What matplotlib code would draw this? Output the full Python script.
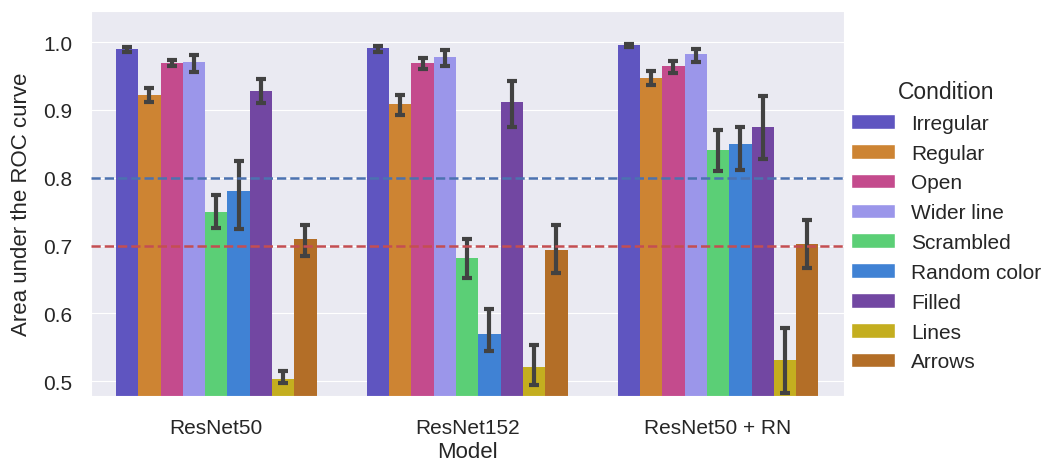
import numpy as np
import matplotlib
matplotlib.use("Agg")
import matplotlib.pyplot as plt
import seaborn as sns
from matplotlib.patches import Patch

sns.set_style("darkgrid")
plt.rcParams['font.family'] = ['Liberation Sans', 'DejaVu Sans']

models = ["ResNet50", "ResNet152", "ResNet50 + RN"]
conditions = ["Irregular", "Regular", "Open", "Wider line", "Scrambled",
              "Random color", "Filled", "Lines", "Arrows"]
colors = ["#5f55c0", "#cd8433", "#c44b8d", "#9b96ea", "#5bcf76",
          "#4082d4", "#7247a2", "#c4ae1f", "#b36e27"]

# mean AUC per model (rows) and condition (columns)
auc = np.array([
    [0.990, 0.922, 0.969, 0.971, 0.749, 0.780, 0.928, 0.504, 0.710],
    [0.991, 0.909, 0.969, 0.978, 0.681, 0.569, 0.912, 0.521, 0.694],
    [0.996, 0.947, 0.965, 0.982, 0.841, 0.850, 0.875, 0.531, 0.702],
])
ci_low = np.array([
    [0.985, 0.911, 0.965, 0.956, 0.726, 0.725, 0.910, 0.498, 0.685],
    [0.986, 0.893, 0.960, 0.965, 0.652, 0.545, 0.874, 0.495, 0.660],
    [0.993, 0.936, 0.954, 0.971, 0.810, 0.812, 0.827, 0.482, 0.667],
])
ci_high = np.array([
    [0.993, 0.932, 0.974, 0.981, 0.774, 0.824, 0.946, 0.515, 0.730],
    [0.994, 0.922, 0.977, 0.988, 0.709, 0.607, 0.942, 0.553, 0.730],
    [0.997, 0.958, 0.972, 0.990, 0.870, 0.875, 0.920, 0.578, 0.737],
])

fig = plt.figure(figsize=(10.44, 4.64), dpi=100)
ax = fig.add_axes([0.087, 0.144, 0.721, 0.830])

n = len(conditions)
width = 0.8 / n
x = np.arange(len(models))
for j, cond in enumerate(conditions):
    pos = x - 0.4 + width * (j + 0.5)
    ax.bar(pos, auc[:, j], width=width, color=colors[j], linewidth=0, zorder=2)
    ax.errorbar(pos, auc[:, j],
                yerr=[auc[:, j] - ci_low[:, j], ci_high[:, j] - auc[:, j]],
                fmt='none', ecolor='#424242', elinewidth=3, capsize=3.5,
                capthick=3, zorder=3)

ax.axhline(0.8, color='#4c72b0', linestyle='--', linewidth=1.8, zorder=4)
ax.axhline(0.7, color='#c44e52', linestyle='--', linewidth=1.8, zorder=4)

ax.set_xlim(-0.5, 2.5)
ax.set_ylim(0.478, 1.0456)
ax.set_xticks(x)
ax.set_xticklabels(models)
ax.set_yticks([0.5, 0.6, 0.7, 0.8, 0.9, 1.0])
ax.grid(False, axis='x')
ax.tick_params(axis='both', labelsize=15, colors='#262626')
ax.tick_params(axis='x', pad=12)
ax.tick_params(axis='y', pad=10)
ax.set_xlabel("Model", fontsize=16, color='#262626', labelpad=3)
ax.set_ylabel("Area under the ROC curve", fontsize=16, color='#262626', labelpad=8)

handles = [Patch(facecolor=c, label=l) for c, l in zip(colors, conditions)]
leg = ax.legend(handles=handles, title="Condition", loc='upper left',
                bbox_to_anchor=(0.985, 0.87), frameon=False, fontsize=15,
                title_fontsize=16.5, handlelength=2.1, handleheight=0.7,
                labelspacing=0.52, handletextpad=0.8)

fig.savefig("out.png", dpi=100)
